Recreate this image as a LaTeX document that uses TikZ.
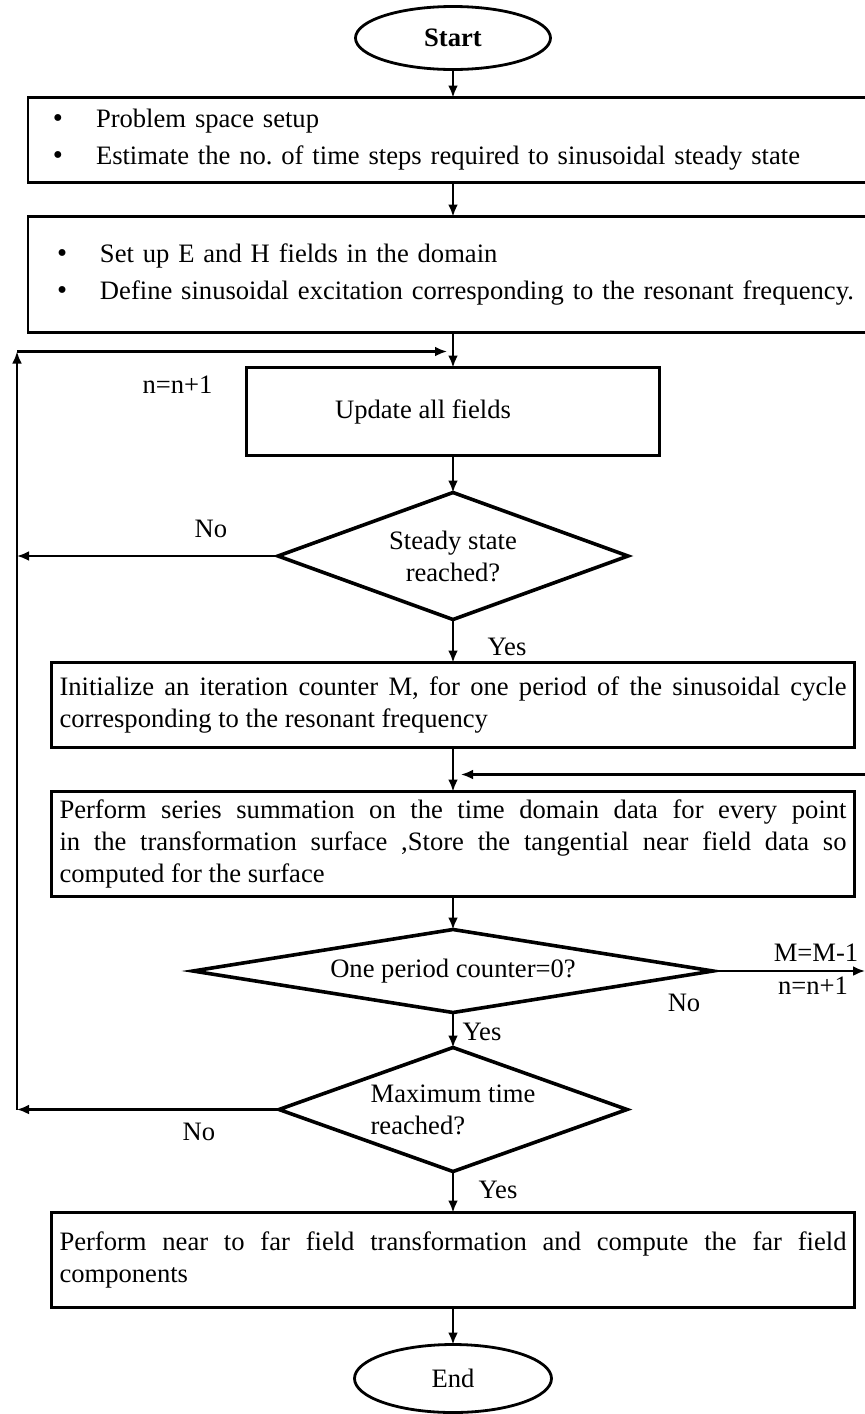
\documentclass[tikz,border=0pt]{standalone}
\usepackage{fontspec}
\setmainfont{Liberation Serif}
\usetikzlibrary{shapes.geometric, positioning, arrows.meta}

\tikzset{
	every node/.style={font=\fontsize{13.3}{16}\selectfont, outer sep=0pt},
	term/.style={ellipse, draw, line width=1.4pt, minimum width=97.5pt, minimum height=31.5pt, inner sep=0pt},
	proc/.style={rectangle, draw, line width=1.4pt, inner xsep=4pt, inner ysep=2pt},
	bullbox/.style={proc, minimum width=425pt, text width=417pt, align=left},
	textbox/.style={proc, minimum width=401.5pt, text width=393.5pt, align=justify},
	decide/.style={diamond, draw, line width=1.8pt, inner sep=0pt, align=center},
	lbl/.style={inner sep=0pt},
	flow/.style={line width=1.4pt, ->, >={Latex[length=6pt,width=5pt]}},
}

\begin{document}
\begin{tikzpicture}[x=0.5pt, y=-0.5pt]
	\useasboundingbox (0,0) rectangle (865,1414);

	\node[term] (start) at (453,38) {\textbf{Start}};
	\node[bullbox, minimum height=42.5pt, below=14pt of start] (setup)
		{\makebox[30pt][l]{\hspace{8.5pt}\Large\textbullet}Problem space setup\\[2.5pt]
		 \makebox[30pt][l]{\hspace{8.5pt}\Large\textbullet}Estimate the no.\ of time steps required to sinusoidal steady state};
	\node[bullbox, minimum height=58pt, below=17pt of setup] (fields)
		{\makebox[32pt][l]{\hspace{10.5pt}\Large\textbullet}Set up E and H fields in the domain\\[2.5pt]
		 \makebox[32pt][l]{\hspace{10.5pt}\Large\textbullet}Define sinusoidal excitation corresponding to the resonant frequency.\\[4pt]};
	\node[proc, minimum width=206.5pt, minimum height=44pt, below=17.5pt of fields] (update) {Update all fields\hspace*{30pt}};
	\node[decide, minimum width=175pt, minimum height=63.5pt, aspect=2.76, below=18.5pt of update] (steady) {Steady state\\reached?};
	\node[textbox, minimum height=42.5pt, below=21.5pt of steady] (init)
		{Initialize an iteration counter M, for one period of the sinusoidal cycle\linebreak
		 corresponding to the resonant frequency};
	\node[textbox, minimum height=52.5pt, below=22pt of init] (series)
		{Perform series summation on the time domain data for every point\linebreak
		 in the transformation surface ,Store the tangential near field data so\linebreak
		 computed for the surface};
	\node[decide, minimum width=260pt, minimum height=41.5pt, aspect=6.3, below=16.5pt of series] (period) {One period counter=0?};
	\node[decide, minimum width=174pt, minimum height=62pt, aspect=2.8, align=left, below=17.5pt of period] (maxtime) {Maximum time\\reached?};
	\node[textbox, minimum height=47.5pt, below=20.5pt of maxtime] (farfield)
		{Perform near to far field transformation and compute the far field\linebreak
		 components};
	\node[term, minimum width=98.5pt, minimum height=34pt, below=18.5pt of farfield] (end) {End};

	% loop helpers
	\coordinate (rim) at (865,0);
	\coordinate (lft) at (17,0);
	\coordinate (loop) at ([yshift=-9.5pt]fields.south);
	\coordinate (back) at ([yshift=-13.5pt]init.south -| rim);

	% labels
	\node[lbl] (nplus) at ([xshift=-34.5pt, yshift=13.5pt]update.west) {n=n+1};
	\node[lbl] (no1) at ([xshift=-33.5pt, yshift=13.5pt]steady.west) {No};
	\node[lbl] (yes1) at ([xshift=27pt, yshift=-13.5pt]steady.south) {Yes};
	\node[lbl] (mminus) at ([xshift=51.5pt, yshift=9pt]period.east) {M=M-1};
	\node[lbl] (nplus2) at ([xshift=50pt, yshift=-7.5pt]period.east) {n=n+1};
	\node[lbl] (no2) at ([xshift=-14.5pt, yshift=-16pt]period.east) {No};
	\node[lbl] (yes2) at ([xshift=14.5pt, yshift=-9.5pt]period.south) {Yes};
	\node[lbl] (no3) at ([xshift=-40pt, yshift=-11pt]maxtime.west) {No};
	\node[lbl] (yes3) at ([xshift=22.5pt, yshift=-9pt]maxtime.south) {Yes};

	\draw[flow] (start) -- (setup);
	\draw[flow] (setup) -- (fields);
	\draw[flow] (fields) -- (update);
	\draw[flow] (update) -- (steady);
	\draw[flow] (steady) -- (init);
	\draw[flow] (init) -- (series);
	\draw[flow] (series) -- (period);
	\draw[flow] (period) -- (maxtime);
	\draw[flow] (maxtime) -- (farfield);
	\draw[flow] (farfield) -- (end);

	\draw[flow] (steady.west) -- (steady.west -| lft);
	\draw[flow] (maxtime.west) -- (maxtime.west -| lft);
	\draw[flow] (maxtime.west -| lft) -- (loop -| lft);
	\draw[flow] (loop -| lft) -- ([xshift=-3pt]loop);
	\draw[flow] (period.east) -- (period.east -| rim);
	\draw[flow] (back) -- ([xshift=4pt]back -| series.north);
\end{tikzpicture}
\end{document}
